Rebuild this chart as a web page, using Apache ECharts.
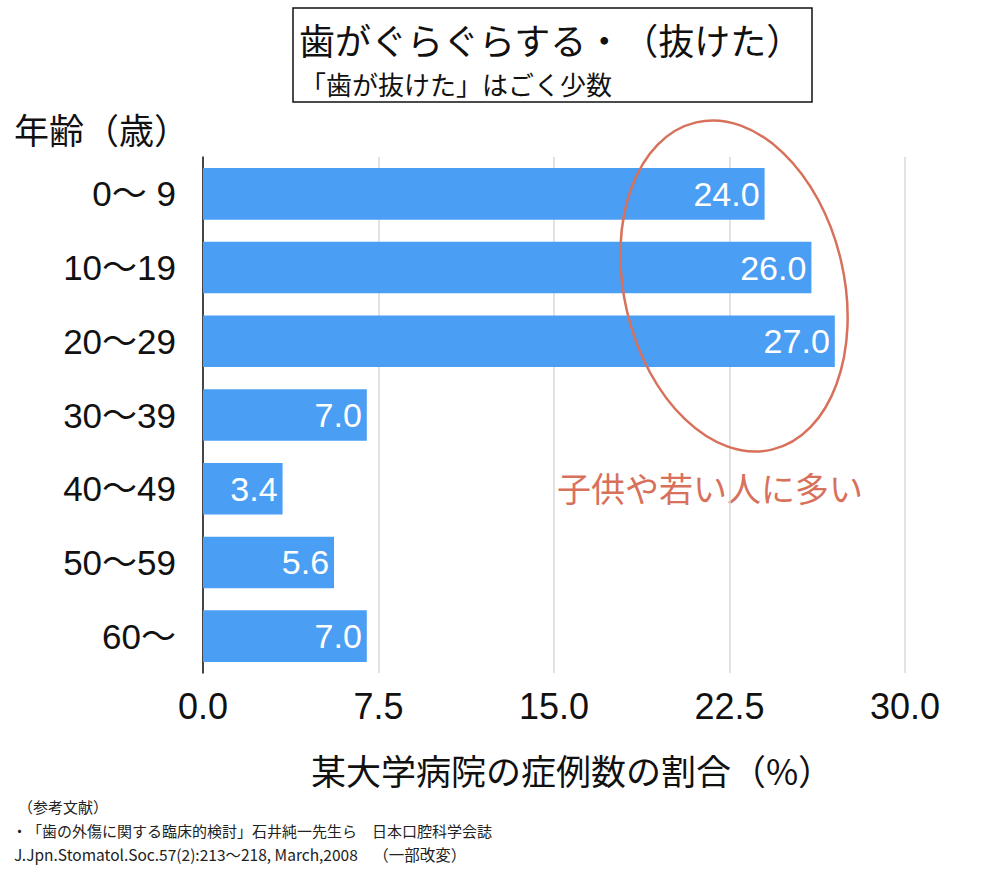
<!DOCTYPE html>
<html>
<head>
<meta charset="utf-8">
<script src="https://cdn.jsdelivr.net/npm/echarts@6/dist/echarts.min.js"></script>
<style>
html,body{margin:0;padding:0;background:#fff;text-spacing-trim:space-all;}
#chart{width:1000px;height:870px;text-spacing-trim:space-all;}
svg, svg text, svg tspan{text-spacing-trim:space-all;}
</style>
</head>
<body>
<div id="chart"></div>
<script>
const categories = ['0〜 9', '10〜19', '20〜29', '30〜39', '40〜49', '50〜59', '60〜'];
const values = [24.0, 26.0, 27.0, 7.0, 3.4, 5.6, 7.0];
const xTicks = [0, 7.5, 15, 22.5, 30];

const FONT = '"Noto Sans CJK JP", "Noto Sans", sans-serif';
const NUMFONT = '"Liberation Sans", "Noto Sans CJK JP", sans-serif';
const RED = '#D8715C';

const chart = echarts.init(document.getElementById('chart'), null, {renderer: 'svg'});
chart.setOption({
  animation: false,
  backgroundColor: '#fff',
  textStyle: {fontFamily: FONT},
  grid: {left: 203, right: 95, top: 157, bottom: 197, containLabel: false},
  xAxis: {
    type: 'value',
    min: xTicks[0],
    max: xTicks[xTicks.length - 1],
    interval: 7.5,
    axisLine: {show: false},
    axisTick: {show: false},
    splitLine: {show: true, lineStyle: {color: '#d9d9d9', width: 1.5}},
    axisLabel: {
      fontSize: 36, color: '#111', margin: 15, fontFamily: NUMFONT,
      formatter: v => v.toFixed(1)
    },
    name: '某大学病院の症例数の割合（%）',
    nameLocation: 'middle',
    nameGap: 79,
    nameTextStyle: {fontSize: 35, color: '#111', fontFamily: FONT, padding: [0, 0, 0, 36]}
  },
  yAxis: {
    type: 'category',
    data: categories,
    inverse: true,
    axisLine: {show: true, lineStyle: {color: '#111', width: 1.5}},
    axisTick: {show: false},
    axisLabel: {fontSize: 35, color: '#111', margin: 27, fontFamily: NUMFONT}
  },
  series: [{
    type: 'bar',
    data: values,
    barWidth: '70%',
    itemStyle: {color: '#4A9EF4'},
    label: {
      show: true,
      position: 'insideRight',
      distance: 5,
      color: '#fff',
      fontSize: 34,
      fontFamily: NUMFONT,
      formatter: p => p.value.toFixed(1)
    }
  }],
  graphic: [
    {type: 'rect', shape: {x: 293, y: 8, width: 519, height: 94},
     style: {fill: '#fff', stroke: '#111', lineWidth: 1.5}},
    {type: 'text', x: 299, y: 39,
     style: {text: '歯がぐらぐらする・（抜けた）', fill: '#111', font: '36px ' + FONT, textVerticalAlign: 'middle'}},
    {type: 'text', x: 300, y: 83,
     style: {text: '「歯が抜けた」はごく少数', fill: '#111', font: '26px ' + FONT, textVerticalAlign: 'middle'}},
    {type: 'text', x: 14, y: 128,
     style: {text: '年齢（歳）', fill: '#111', font: '35px ' + FONT, textVerticalAlign: 'middle'}},
    {type: 'ellipse', x: 734, y: 286, rotation: 13 * Math.PI / 180,
     shape: {cx: 0, cy: 0, rx: 110, ry: 168},
     style: {fill: 'none', stroke: RED, lineWidth: 2.5}, z: 10},
    {type: 'text', x: 557, y: 487,
     style: {text: '子供や若い人に多い', fill: RED, font: '34px ' + FONT, textVerticalAlign: 'middle'}},
    {type: 'text', x: 18, y: 806,
     style: {text: '（参考文献）', fill: '#222', font: '15px ' + FONT, textVerticalAlign: 'middle'}},
    {type: 'text', x: 12, y: 830,
     style: {text: '・「歯の外傷に関する臨床的検討」石井純一先生ら　日本口腔科学会誌', fill: '#222', font: '15px ' + FONT, textVerticalAlign: 'middle'}},
    {type: 'text', x: 14, y: 854,
     style: {text: 'J.Jpn.Stomatol.Soc.57(2):213〜218, March,2008　（一部改変）', fill: '#222', font: '15.5px ' + FONT, textVerticalAlign: 'middle'}}
  ]
});
</script>
</body>
</html>
